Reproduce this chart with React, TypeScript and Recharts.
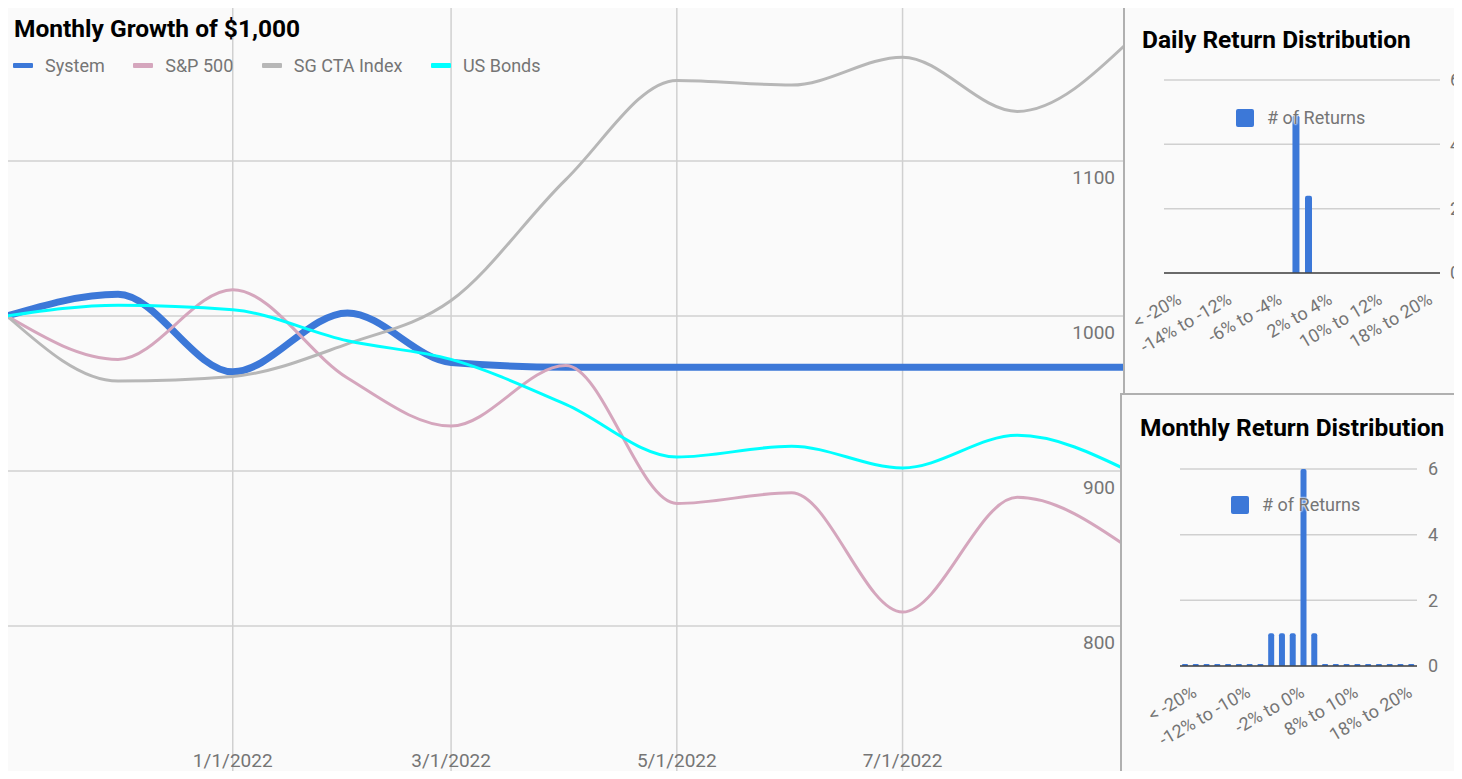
import { Bar, BarChart, CartesianGrid, Line, LineChart, XAxis, YAxis } from 'recharts';

// monthly growth of $1,000
const months = [
  '2021-11-01', '2021-12-01', '2022-01-01', '2022-02-01', '2022-03-01', '2022-04-01',
  '2022-05-01', '2022-06-01', '2022-07-01', '2022-08-01', '2022-09-01',
];
const system = [1000, 1014, 964, 1002, 970, 967, 967, 967, 967, 967, 967];
const sp500 = [1000, 972, 1017, 960, 929, 968, 879, 886, 809, 883, 849];
const sgCta = [1000, 958, 961, 982, 1010, 1088, 1152, 1149, 1167, 1132, 1179];
const usBonds = [1000, 1007, 1004, 984, 972, 943, 909, 916, 902, 923, 899];

const dateTicks = ['2022-01-01', '2022-03-01', '2022-05-01', '2022-07-01'];
const dateLabels = ['1/1/2022', '3/1/2022', '5/1/2022', '7/1/2022'];
const valueTicks = [800, 900, 1000, 1100];

// return distribution bins
const returnBins = [
  '< -20%', '-20% to -18%', '-18% to -16%', '-16% to -14%', '-14% to -12%', '-12% to -10%',
  '-10% to -8%', '-8% to -6%', '-6% to -4%', '-4% to -2%', '-2% to 0%', '0% to 2%',
  '2% to 4%', '4% to 6%', '6% to 8%', '8% to 10%', '10% to 12%', '12% to 14%',
  '14% to 16%', '16% to 18%', '18% to 20%', '> 20%',
];
const dailyCounts = [0, 0, 0, 0, 0, 0, 0, 0, 0, 0, 49, 24, 0, 0, 0, 0, 0, 0, 0, 0, 0, 0];
const monthlyCounts = [0, 0, 0, 0, 0, 0, 0, 0, 1, 1, 1, 6, 1, 0, 0, 0, 0, 0, 0, 0, 0, 0];

const series = [
  { key: 'system', name: 'System', color: '#3c78d8', width: 7 },
  { key: 'sp500', name: 'S&P 500', color: '#d5a6bd', width: 3 },
  { key: 'sgCta', name: 'SG CTA Index', color: '#b7b7b7', width: 3 },
  { key: 'usBonds', name: 'US Bonds', color: '#00ffff', width: 3 },
];

const toTime = (d: string) => Date.parse(d);

const growthData = months.map((m, i) => ({
  t: toTime(m),
  system: system[i],
  sp500: sp500[i],
  sgCta: sgCta[i],
  usBonds: usBonds[i],
}));

const dailyData = returnBins.map((bin, i) => ({ bin, count: dailyCounts[i] }));
const monthlyData = returnBins.map((bin, i) => ({ bin, count: monthlyCounts[i] }));

const FONT = 'Roboto, sans-serif';
const GRAY_TEXT = '#757575';
const BAR_BLUE = '#3c78d8';

// date labels sit inside the plot, near its bottom
const DateTick = ({ x, payload }: any) => {
  const idx = dateTicks.findIndex((d) => toTime(d) === payload.value);
  return (
    <text x={x} y={761} textAnchor="middle" fill={GRAY_TEXT} fontSize={19} fontFamily={FONT}>
      {idx >= 0 ? dateLabels[idx] : ''}
    </text>
  );
};

// value labels sit inside the plot, just under each gridline
const ValueTick = ({ y, payload }: any) => (
  <text x={1108} y={y + 23} textAnchor="end" fill={GRAY_TEXT} fontSize={19} fontFamily={FONT}>
    {payload.value}
  </text>
);

const SlantTick = ({ x, y, payload }: any) => (
  <g transform={`translate(${x},${y})`}>
    <text x={0} y={25} textAnchor="end" transform="rotate(-30)" fill={GRAY_TEXT} fontSize={18} fontFamily={FONT}>
      {payload.value}
    </text>
  </g>
);

const BarLegend = ({ left, top }: { left: number; top: number }) => (
  <div style={{ position: 'absolute', left, top, display: 'flex', alignItems: 'center', fontFamily: FONT }}>
    <span style={{ width: 18, height: 18, background: BAR_BLUE, borderRadius: 2, marginRight: 13 }} />
    <span style={{ fontSize: 18, color: GRAY_TEXT, textShadow: '0 0 2px #fafafa, 0 0 2px #fafafa, 0 0 2px #fafafa' }}>
      # of Returns
    </span>
  </div>
);

const panelTitle = { position: 'absolute' as const, fontFamily: FONT, fontWeight: 700, fontSize: 24.5, color: '#000', lineHeight: '26px', whiteSpace: 'nowrap' as const };

const App = () => {
  return (
    <div style={{ position: 'relative', width: 1462, height: 779, margin: -8, overflow: 'hidden', background: '#fff' }}>
      {/* main panel */}
      <div style={{ position: 'absolute', left: 5, top: 5, width: 1200, height: 800, background: '#fafafa', borderTop: '2px solid #b0b0b0', borderLeft: '2px solid #b0b0b0' }} />
      <div style={{ position: 'absolute', left: 7, top: 6 }}>
        <LineChart width={1125} height={775} data={growthData} margin={{ top: 0, right: 0, left: 0, bottom: 0 }}>
          <CartesianGrid stroke="#d0d0d0" strokeWidth={1.5} />
          <XAxis
            dataKey="t"
            type="number"
            domain={[toTime(months[0]), toTime(months[months.length - 1])]}
            ticks={dateTicks.map(toTime)}
            mirror
            axisLine={false}
            tickLine={false}
            tick={<DateTick />}
            allowDataOverflow
          />
          <YAxis
            orientation="right"
            mirror
            domain={[700, 1200]}
            ticks={valueTicks}
            axisLine={false}
            tickLine={false}
            tick={<ValueTick />}
            allowDataOverflow
          />
          {series.map((s) => (
            <Line
              key={s.key}
              type="monotone"
              dataKey={s.key}
              name={s.name}
              stroke={s.color}
              strokeWidth={s.width}
              dot={false}
              activeDot={false}
              isAnimationActive={false}
            />
          ))}
        </LineChart>
      </div>
      <div style={{ ...panelTitle, left: 14, top: 16 }}>Monthly Growth of $1,000</div>
      <div style={{ position: 'absolute', left: 13, top: 55, display: 'flex', alignItems: 'center', fontFamily: FONT, fontSize: 18, color: GRAY_TEXT }}>
        {series.map((s) => (
          <div key={s.key} style={{ display: 'flex', alignItems: 'center', marginRight: 28.5 }}>
            <span style={{ width: 20, height: 5, background: s.color, borderRadius: 1, marginRight: 12 }} />
            <span>{s.name}</span>
          </div>
        ))}
      </div>

      {/* daily return distribution */}
      <div style={{ position: 'absolute', left: 1123, top: 5, width: 400, height: 390, background: '#fafafa', borderTop: '2px solid #b0b0b0', borderLeft: '2px solid #b0b0b0' }} />
      <div style={{ position: 'absolute', left: 1124, top: 6 }}>
        <BarChart width={338} height={389} data={dailyData} margin={{ top: 74, right: 0, left: 40, bottom: 0 }}>
          <CartesianGrid stroke="#d0d0d0" strokeWidth={1.5} vertical={false} />
          <XAxis
            dataKey="bin"
            height={122}
            interval={3}
            stroke="#444"
            strokeWidth={1.5}
            tickLine={false}
            tick={<SlantTick />}
          />
          <YAxis
            orientation="right"
            width={22}
            domain={[0, 60]}
            ticks={[0, 20, 40, 60]}
            axisLine={false}
            tickLine={false}
            tickMargin={4}
            tick={{ fill: GRAY_TEXT, fontSize: 18, fontFamily: FONT, textAnchor: 'start' }}
          />
          <Bar dataKey="count" fill={BAR_BLUE} barSize={7} radius={[2, 2, 0, 0]} isAnimationActive={false} />
        </BarChart>
      </div>
      <div style={{ ...panelTitle, left: 1142, top: 27 }}>Daily Return Distribution</div>
      <BarLegend left={1236} top={107} />

      {/* monthly return distribution */}
      <div style={{ position: 'absolute', left: 1120, top: 393, width: 400, height: 400, background: '#fafafa', borderTop: '2px solid #b0b0b0', borderLeft: '2px solid #b0b0b0' }} />
      <div style={{ position: 'absolute', left: 1121, top: 394 }}>
        <BarChart width={341} height={385} data={monthlyData} margin={{ top: 75, right: 0, left: 59, bottom: 0 }}>
          <CartesianGrid stroke="#d0d0d0" strokeWidth={1.5} vertical={false} />
          <XAxis
            dataKey="bin"
            height={113}
            interval={4}
            stroke="#444"
            strokeWidth={1.5}
            tickLine={false}
            tick={<SlantTick />}
          />
          <YAxis
            orientation="right"
            width={45}
            domain={[0, 6]}
            ticks={[0, 2, 4, 6]}
            axisLine={false}
            tickLine={false}
            tickMargin={5}
            tick={{ fill: GRAY_TEXT, fontSize: 18, fontFamily: FONT, textAnchor: 'start' }}
          />
          <Bar dataKey="count" fill={BAR_BLUE} barSize={6} radius={[2, 2, 0, 0]} minPointSize={2} isAnimationActive={false} />
        </BarChart>
      </div>
      <div style={{ ...panelTitle, left: 1140, top: 415 }}>Monthly Return Distribution</div>
      <BarLegend left={1231} top={494} />
    </div>
  );
};

export default App;
